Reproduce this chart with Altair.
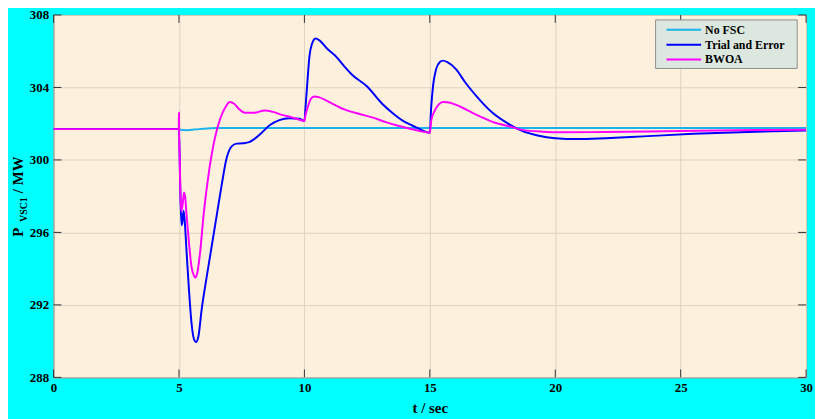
import altair as alt
import pandas as pd

names = ["No FSC", "Trial and Error", "BWOA"]
colors = ["#1AB4EA", "#0000FF", "#FF00FF"]

t_nofsc = [0, 5.0, 5.05, 5.3, 5.8, 6.5, 7.5, 30]
p_nofsc = [301.7, 301.7, 301.66, 301.64, 301.7, 301.76, 301.76, 301.76]

t_trial = [0, 5.0, 5.05, 5.1, 5.14, 5.18, 5.22, 5.3, 5.4, 5.5,
           5.6, 5.68, 5.78, 5.9, 6.1, 6.3, 6.5, 6.7, 6.9, 7.1,
           7.3, 7.55, 7.8, 8.0, 8.3, 8.6, 9.0, 9.4, 9.8, 10.0,
           10.05, 10.13, 10.2, 10.3, 10.45, 10.6, 10.9, 11.3, 11.6, 11.9,
           12.5, 13.1, 13.5, 13.9, 14.3, 14.6, 15.0, 15.05, 15.13, 15.25,
           15.4, 15.52, 15.7, 16.05, 16.4, 16.84, 17.2, 17.5, 18.15, 18.68,
           19.3, 20.0, 20.9, 22.0, 23.5, 25.5, 28.0, 30.0]
p_trial = [301.7, 301.7, 298.5, 296.4, 296.6, 297.2, 296.8, 295.0, 292.8, 291.0,
           290.1, 289.95, 290.3, 291.7, 293.5, 295.2, 296.9, 298.6, 300.1, 300.75,
           300.9, 300.92, 300.98, 301.15, 301.5, 301.9, 302.2, 302.3, 302.27, 302.15,
           303.0, 304.5, 305.7, 306.4, 306.7, 306.6, 306.15, 305.65, 305.15, 304.7,
           304.05, 303.1, 302.6, 302.18, 301.9, 301.7, 301.5, 302.8, 304.1, 305.0,
           305.4, 305.48, 305.4, 305.0, 304.3, 303.55, 303.0, 302.6, 301.98, 301.6,
           301.35, 301.2, 301.15, 301.2, 301.3, 301.44, 301.56, 301.62]

t_bwoa = [0, 4.99, 5.0, 5.01, 5.03, 5.07, 5.1, 5.15, 5.2, 5.25,
          5.3, 5.4, 5.5, 5.6, 5.65, 5.72, 5.85, 5.98, 6.2, 6.44,
          6.65, 6.84, 7.03, 7.2, 7.4, 7.63, 8.0, 8.42, 8.75, 9.07,
          9.5, 10.0, 10.05, 10.13, 10.25, 10.39, 10.6, 10.92, 11.57, 12.23,
          12.7, 13.28, 13.7, 14.2, 14.6, 15.0, 15.06, 15.19, 15.35, 15.52,
          15.7, 16.31, 16.7, 17.1, 17.6, 18.15, 18.68, 19.5, 20.3, 22.0,
          25.0, 28.0, 30.0]
p_bwoa = [301.7, 301.7, 302.6, 301.1, 300.0, 297.6, 297.2, 297.6, 298.2, 297.9,
          297.0, 295.4, 294.1, 293.6, 293.5, 293.7, 295.0, 296.95, 299.4, 301.26,
          302.3, 302.88, 303.2, 303.1, 302.8, 302.6, 302.6, 302.73, 302.65, 302.5,
          302.35, 302.16, 302.5, 302.9, 303.35, 303.5, 303.45, 303.25, 302.8, 302.52,
          302.35, 302.07, 301.9, 301.72, 301.6, 301.5, 302.2, 302.7, 303.05, 303.2,
          303.18, 302.88, 302.6, 302.34, 302.05, 301.86, 301.66, 301.56, 301.53, 301.54,
          301.6, 301.65, 301.67]

x_ticks = [0, 5, 10, 15, 20, 25, 30]
y_ticks = [288, 292, 296, 300, 304, 308]

FONT = "Liberation Serif"
W, H = 760, 366

frames = []
for n, ts, ps in [(names[0], t_nofsc, p_nofsc), (names[1], t_trial, p_trial), (names[2], t_bwoa, p_bwoa)]:
    frames.append(pd.DataFrame({"t": ts, "p": ps, "series": n}))
df = pd.concat(frames, ignore_index=True)

x_enc = alt.X("t:Q", scale=alt.Scale(domain=[0, 30], nice=False, zero=False),
              axis=alt.Axis(values=x_ticks, title="t / sec", ticks=False, domain=False,
                            labelFlush=False, labelPadding=4, titlePadding=6, grid=True, format="d"))
y_enc = alt.Y("p:Q", scale=alt.Scale(domain=[288, 308], nice=False, zero=False),
              axis=alt.Axis(values=y_ticks, title=None, ticks=False, domain=False,
                            labelPadding=5, grid=True, format="d"))
color_enc = alt.Color("series:N", scale=alt.Scale(domain=names, range=colors), legend=None)

lines = [
    alt.Chart(df).transform_filter(alt.datum.series == n)
    .mark_line(strokeWidth=2, interpolate="monotone")
    .encode(x=x_enc, y=y_enc, color=color_enc)
    for n in names
]

xt = pd.DataFrame({"t": x_ticks})
yt = pd.DataFrame({"p": y_ticks})
tick_color = "#333333"
xtick_b = alt.Chart(xt).mark_rule(color=tick_color).encode(x=x_enc, y=alt.value(H), y2=alt.value(H - 8))
xtick_t = alt.Chart(xt).mark_rule(color=tick_color).encode(x=x_enc, y=alt.value(0), y2=alt.value(8))
ytick_l = alt.Chart(yt).mark_rule(color=tick_color).encode(y=y_enc, x=alt.value(0), x2=alt.value(8))
ytick_r = alt.Chart(yt).mark_rule(color=tick_color).encode(y=y_enc, x=alt.value(W), x2=alt.value(W - 8))

one = pd.DataFrame({"a": [0]})
title_style = dict(angle=270, align="left", baseline="alphabetic", font=FONT,
                   fontWeight="bold", color="black")
yt_p = alt.Chart(one).mark_text(text="P", fontSize=15, **title_style).encode(
    x=alt.value(-31), y=alt.value(224))
yt_sub = alt.Chart(one).mark_text(text="VSC1", fontSize=10, **title_style).encode(
    x=alt.value(-27), y=alt.value(209))
yt_mw = alt.Chart(one).mark_text(text="/ MW", fontSize=15, **title_style).encode(
    x=alt.value(-31), y=alt.value(180))

main = alt.layer(*lines, xtick_b, xtick_t, ytick_l, ytick_r, yt_p, yt_sub, yt_mw)

leg_df = pd.DataFrame({"series": names})
leg_y = alt.Y("series:N", scale=alt.Scale(type="point", domain=names, range=[15, 45], padding=0),
              axis=None)
leg_box = alt.Chart(one).mark_rect(fill="#DCE8DF", stroke="#8C8C8C", strokeWidth=1).encode(
    x=alt.value(608), x2=alt.value(751), y=alt.value(5), y2=alt.value(54))
leg_sym = alt.Chart(leg_df).mark_rule(strokeWidth=2).encode(
    x=alt.value(619), x2=alt.value(654), y=leg_y, color=color_enc)
leg_txt = alt.Chart(leg_df).mark_text(align="left", baseline="middle", font=FONT,
                                      fontWeight="bold", fontSize=12, color="black").encode(
    x=alt.value(658), y=leg_y, text="series:N")
legend = alt.layer(leg_box, leg_sym, leg_txt)

chart = (
    alt.layer(main, legend)
    .resolve_scale(y="independent")
    .properties(width=W, height=H, autosize=alt.AutoSizeParams(type="none"),
                padding={"left": 46, "top": 5, "right": 9, "bottom": 40},
                background="#00FFFF")
    .configure_view(fill="#FDF1DE", stroke="#4D4D4D", strokeWidth=1)
    .configure_axis(labelFont=FONT, labelFontWeight="bold", labelFontSize=13, labelColor="black",
                    titleFont=FONT, titleFontSize=15, titleFontWeight="bold", titleColor="black",
                    gridColor="#DDD2C2", gridWidth=1)
)

chart.save("out.html", embed_options={"renderer": "svg", "actions": False})
